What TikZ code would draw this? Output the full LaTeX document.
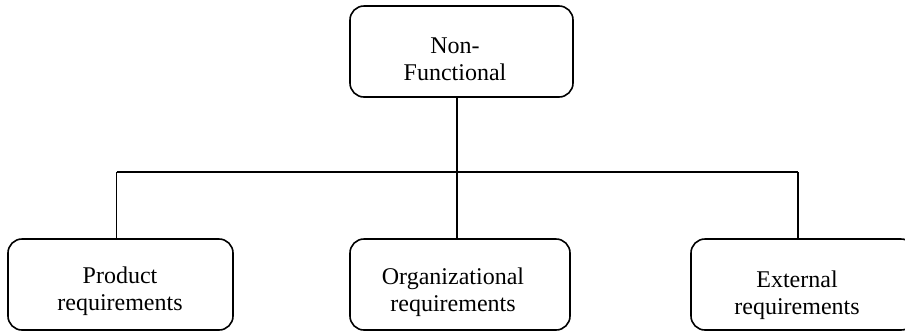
\documentclass[tikz,border=0pt]{standalone}
\usepackage{fontspec}
\setmainfont{Liberation Serif}
\usetikzlibrary{positioning}
\begin{document}
\begin{tikzpicture}[x=0.5pt, y=-0.5pt,
    box/.style={draw, rounded corners=7pt, line width=0.8pt, minimum width=111.5pt, minimum height=45.5pt, inner sep=0pt},
    boxtext/.style={align=center, font=\fontsize{12}{13.5}\selectfont, inner sep=0pt},
    link/.style={line width=0.8pt}
]
    \useasboundingbox (0,0) rectangle (905,333);

    % Top level
    \node[box] (nonfunc) at (461.5,51.5) {};
    \node[boxtext] (nonfunc-text) at (455,59) {Non-\\Functional};

    % Bus
    \coordinate (bus-left) at (116.5,172);
    \coordinate (bus-mid) at (457,172);
    \coordinate (bus-right) at (798,172);

    % Requirement types
    \node[box, minimum width=112.5pt] (product) at (120.5,284.5) {};
    \node[boxtext] (product-text) at (120,291) {Product\\requirements};

    \node[box, minimum width=110pt] (organ) at (460,284.5) {};
    \node[boxtext] (organ-text) at (453,292) {Organizational\\requirements};

    \node[box, minimum width=112pt] (external) at (803,284.5) {};
    \node[boxtext] (external-text) at (797,295) {External\\requirements};

    % Connectors
    \draw[link] (nonfunc.south -| bus-mid) -- (bus-mid);
    \draw[link] (bus-left) -- (bus-right);
    \draw[link] (bus-left) -- (bus-left |- product.north);
    \draw[link] (bus-mid) -- (bus-mid |- organ.north);
    \draw[link] (bus-right) -- (bus-right |- external.north);
\end{tikzpicture}
\end{document}
